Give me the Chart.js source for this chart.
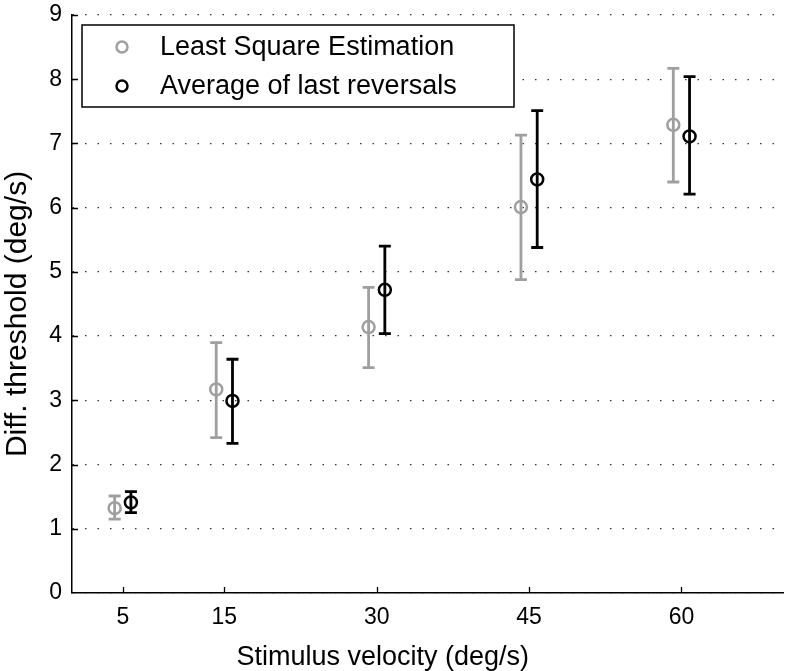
<!DOCTYPE html>
<html>
<head>
<meta charset="utf-8">
<title>Diff. threshold vs stimulus velocity</title>
<script src="https://cdn.jsdelivr.net/npm/chart.js@4.4.1/dist/chart.umd.min.js"></script>
<style>
  body { margin: 0; background: #fff; }
</style>
</head>
<body>
<canvas id="myChart" width="786" height="671"></canvas>
<script>
// stimulus velocities (deg/s)
const velocities = [5, 15, 30, 45, 60];

// Least Square Estimation
const lseMean = [1.32, 3.17, 4.14, 6.01, 7.29];
const lseLow = [1.15, 2.42, 3.51, 4.88, 6.40];
const lseHigh = [1.51, 3.90, 4.76, 7.13, 8.17];

// Average of last reversals
const avgMean = [1.41, 2.99, 4.72, 6.44, 7.11];
const avgLow = [1.25, 2.33, 4.04, 5.38, 6.21];
const avgHigh = [1.58, 3.64, 5.40, 7.51, 8.04];

const yTicks = [0, 1, 2, 3, 4, 5, 6, 7, 8, 9];
const dodge = 0.8; // small horizontal shift so the two series don't overlap

const xTitle = "Stimulus velocity (deg/s)";
const yTitle = "Diff. threshold (deg/s)";

const FONT = "'Liberation Sans', Arial, Helvetica, sans-serif";
const GREY = "#9f9f9f";

function makePoints(mean, low, high, shift) {
  return velocities.map((v, i) => ({ x: v + shift, y: mean[i], lo: low[i], hi: high[i] }));
}

const errorBars = {
  id: "errorBars",
  beforeDatasetsDraw(chart) {
    const { ctx } = chart;
    const x = chart.scales.x;
    const y = chart.scales.y;
    chart.data.datasets.forEach((ds) => {
      ctx.save();
      ctx.strokeStyle = ds.borderColor;
      ctx.lineWidth = 2.8;
      ds.data.forEach((p) => {
        const px = x.getPixelForValue(p.x);
        const lo = y.getPixelForValue(p.lo);
        const hi = y.getPixelForValue(p.hi);
        ctx.beginPath();
        ctx.moveTo(px, lo);
        ctx.lineTo(px, hi);
        ctx.moveTo(px - 6, lo);
        ctx.lineTo(px + 6, lo);
        ctx.moveTo(px - 6, hi);
        ctx.lineTo(px + 6, hi);
        ctx.stroke();
      });
      ctx.restore();
    });
  },
};

// matlab style inward tick marks + axis titles (a little off centre in the original)
const axisDecor = {
  id: "axisDecor",
  afterDraw(chart) {
    const { ctx, chartArea } = chart;
    const x = chart.scales.x;
    const y = chart.scales.y;
    ctx.save();
    ctx.strokeStyle = "#000";
    ctx.lineWidth = 1.3;
    ctx.beginPath();
    yTicks.slice(1).forEach((t) => {
      const py = Math.round(y.getPixelForValue(t)) + 0.5;
      ctx.moveTo(chartArea.left, py);
      ctx.lineTo(chartArea.left + 6, py);
    });
    velocities.forEach((v) => {
      const px = Math.round(x.getPixelForValue(v)) + 0.5;
      ctx.moveTo(px, chartArea.bottom);
      ctx.lineTo(px, chartArea.bottom - 6);
    });
    ctx.stroke();

    ctx.fillStyle = "#000";
    ctx.textAlign = "center";
    ctx.textBaseline = "middle";
    ctx.font = "27px " + FONT;
    ctx.fillText(xTitle, chartArea.left + chartArea.width * 0.437, chartArea.bottom + 65);

    ctx.translate(18, (chartArea.top + chartArea.bottom) / 2 + 10);
    ctx.rotate(-Math.PI / 2);
    ctx.font = "30px " + FONT;
    ctx.fillText(yTitle, 0, 0);
    ctx.restore();
  },
};

const boxLegend = {
  id: "boxLegend",
  afterDraw(chart) {
    const { ctx, chartArea } = chart;
    const left = chartArea.left + 10;
    const top = chartArea.top + 10;
    ctx.save();
    ctx.fillStyle = "#fff";
    ctx.fillRect(left, top, 432, 82);
    ctx.strokeStyle = "#000";
    ctx.lineWidth = 1.5;
    ctx.strokeRect(left, top, 432, 82);
    chart.data.datasets.forEach((ds, i) => {
      const cy = top + 22 + i * 39;
      ctx.beginPath();
      ctx.arc(left + 40, cy, 5.5, 0, Math.PI * 2);
      ctx.lineWidth = 2.5;
      ctx.strokeStyle = ds.borderColor;
      ctx.stroke();
      ctx.fillStyle = "#000";
      ctx.font = "27px " + FONT;
      ctx.textBaseline = "middle";
      ctx.fillText(ds.label, left + 78, cy + 1);
    });
    ctx.restore();
  },
};

const ctx = document.getElementById("myChart");

const chart = new Chart(ctx, {
  type: "scatter",
  data: {
    datasets: [
      {
        label: "Least Square Estimation",
        data: makePoints(lseMean, lseLow, lseHigh, -dodge),
        borderColor: GREY,
        backgroundColor: "rgba(0,0,0,0)",
        pointRadius: 6,
        pointBorderWidth: 2.5,
        pointHoverRadius: 6,
      },
      {
        label: "Average of last reversals",
        data: makePoints(avgMean, avgLow, avgHigh, dodge),
        borderColor: "#000",
        backgroundColor: "rgba(0,0,0,0)",
        pointRadius: 6,
        pointBorderWidth: 2.5,
        pointHoverRadius: 6,
      },
    ],
  },
  options: {
    responsive: false,
    animation: false,
    layout: { autoPadding: false, padding: { left: 0, right: 3, top: 15, bottom: 0 } },
    plugins: {
      legend: { display: false },
      tooltip: { enabled: false },
    },
    scales: {
      x: {
        type: "linear",
        min: 0,
        max: 70,
        afterBuildTicks: (s) => {
          s.ticks = velocities.map((v) => ({ value: v }));
        },
        afterFit: (s) => {
          s.height = 78;
          s.paddingLeft = 0;
          s.paddingRight = 0;
        },
        grid: { display: false, drawTicks: false },
        border: { display: true, color: "#000", width: 1.5 },
        ticks: {
          color: "#000",
          font: { family: FONT, size: 23 },
          padding: 11,
          maxRotation: 0,
        },
      },
      y: {
        min: 0,
        max: 9,
        afterBuildTicks: (s) => {
          s.ticks = yTicks.map((v) => ({ value: v }));
        },
        afterFit: (s) => {
          s.width = 72;
          s.paddingTop = 0;
          s.paddingBottom = 0;
        },
        grid: { color: "#333", lineWidth: 1.3, drawTicks: false },
        border: { display: true, color: "#000", width: 1.5, dash: [1.5, 11] },
        ticks: {
          color: "#000",
          font: { family: FONT, size: 23 },
          padding: 10,
        },
      },
    },
  },
  plugins: [errorBars, axisDecor, boxLegend],
});
</script>
</body>
</html>
